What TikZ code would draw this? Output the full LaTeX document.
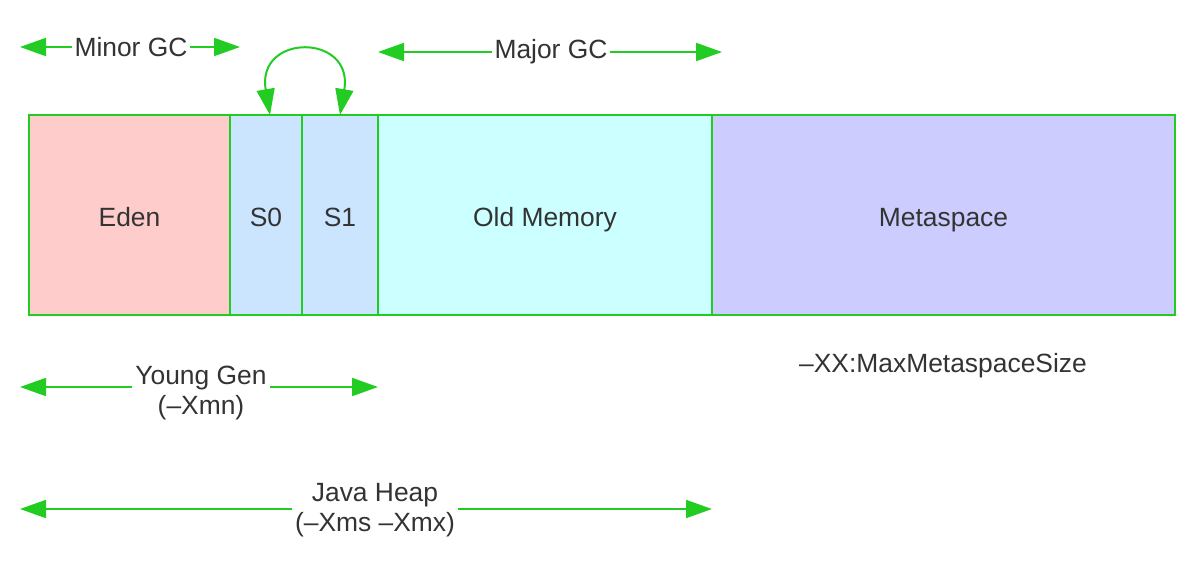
\documentclass[tikz,border=0pt]{standalone}
\usepackage{fontspec}
\setmainfont{Liberation Sans}
\usetikzlibrary{positioning,arrows.meta}

\definecolor{gcgreen}{HTML}{22CC22}
\definecolor{txtgray}{HTML}{333333}
\definecolor{edenfill}{HTML}{FFCCCC}
\definecolor{survfill}{HTML}{CCE5FF}
\definecolor{oldfill}{HTML}{CCFFFF}
\definecolor{metafill}{HTML}{CCCCFF}

\begin{document}
\begin{tikzpicture}[x=0.5pt,y=-0.5pt,
    font=\fontsize{13.2}{15}\selectfont, text=txtgray,
    region/.style={draw=gcgreen,line width=1pt,rectangle,outer sep=0pt,
      minimum height=100pt,text height=14pt,text depth=.4ex},
    span/.style={draw=gcgreen,line width=1pt,
      {Triangle[length=13pt,width=9pt]}-{Triangle[length=13pt,width=9pt]}},
    tag/.style={fill=white,inner sep=1.5pt,align=center}]
  \useasboundingbox (0,0) rectangle (1196,574);

  % The memory regions, placed side by side.
  \node[region,fill=edenfill,minimum width=100.5pt] (eden) at (129.5,215) {Eden};
  \node[region,fill=survfill,minimum width=36pt,right=0pt of eden] (s0) {S0};
  \node[region,fill=survfill,minimum width=38pt,right=0pt of s0] (s1) {S1};
  \node[region,fill=oldfill,minimum width=167pt,right=0pt of s1] (old) {Old Memory};
  \node[region,fill=metafill,minimum width=231.5pt,right=0pt of old] (meta) {Metaspace};

  % Survivor swap.
  \draw[span] ([xshift=2pt]s0.north) .. controls +(-14,-82) and +(14,-82) .. (s1.north);

  % Collection ranges above the regions.
  \coordinate (minorL) at (20,47);
  \coordinate (minorR) at (240,47);
  \draw[span] (minorL) -- (minorR);
  \node[tag] (minor) at (131,47) {Minor GC};

  \coordinate (majorL) at (378,52);
  \coordinate (majorR) at (722,52);
  \draw[span] (majorL) -- (majorR);
  \node[tag] (major) at (551,52) {Major GC};

  % Sizing flags below the regions.
  \coordinate (youngL) at (20,387);
  \coordinate (youngR) at (378,387);
  \draw[span] (youngL) -- (youngR);
  \node[tag] (young) at (201,393) {Young Gen\\(–Xmn)};

  \coordinate (heapL) at (20,509);
  \coordinate (heapR) at (712,509);
  \draw[span] (heapL) -- (heapR);
  \node[tag] (heap) at (375,510) {Java Heap\\(–Xms –Xmx)};

  \node (metaflag) at (943,366) {–XX:MaxMetaspaceSize};
\end{tikzpicture}
\end{document}
